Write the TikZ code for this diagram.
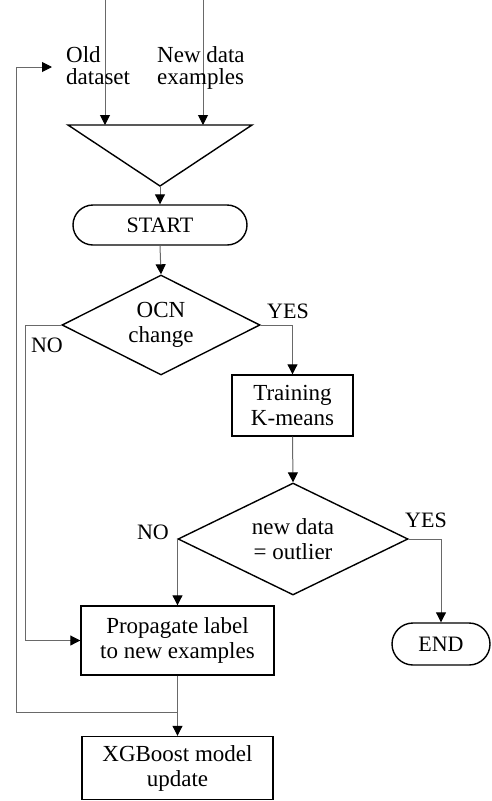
\documentclass[tikz,border=0pt]{standalone}
\usepackage{fontspec}
\setmainfont{Liberation Serif}
\usetikzlibrary{arrows.meta,shapes.geometric}
\definecolor{connc}{RGB}{105,105,105}
\begin{document}
\begin{tikzpicture}[x=1pt,y=-1pt,
  every node/.style={font=\fontsize{23}{25}\selectfont, inner sep=0pt},
  shp/.style={draw=black, line width=1.4pt},
  box/.style={shp, rectangle, align=center},
  term/.style={shp, rectangle, rounded corners=20pt, align=center, font=\fontsize{22}{25}\selectfont},
  dia/.style={shp, diamond, aspect=2, align=center},
  conn/.style={draw=connc, line width=1pt, -{Triangle[length=10pt,width=10pt,color=black]}},
  lbl/.style={align=center, font=\fontsize{22}{25}\selectfont}
]
\useasboundingbox (0,0) rectangle (492,801);

% input triangle
\coordinate (tl) at (68,125);
\coordinate (tr) at (252,125);
\coordinate (tap) at (160,186);
\draw[shp, line join=miter] (tl) -- (tr) -- (tap) -- cycle;
\coordinate (in1) at (105,125);
\coordinate (in2) at (203,125);
\coordinate (src1) at (105,0);
\coordinate (src2) at (203,0);
\draw[conn] (src1) -- (in1);
\draw[conn] (src2) -- (in2);

\node[anchor=north west, align=left, font=\fontsize{23}{22}\selectfont] (old) at (66,46) {Old\\dataset};
\node[anchor=north west, align=left, font=\fontsize{23}{22}\selectfont] (new) at (157,46) {New data\\examples};

% nodes
\node[term, minimum width=174pt, minimum height=40pt] (start) at (160,225) {START};
\node[dia, minimum width=198pt, minimum height=100pt] (ocn) at (161,325) {OCN\\change};
\node[box, minimum width=121pt, minimum height=61pt] (train) at (292.5,405.5) {Training\\K-means};
\node[dia, minimum width=230pt, minimum height=112pt] (out) at (293,539) {new data\\= outlier};
\node[term, rounded corners=21pt, minimum width=98pt, minimum height=42pt] (end) at (441,644) {END};
\node[box, minimum width=193pt, minimum height=69pt] (prop) at (177.5,640.5) {Propagate label\\to new examples};
\node[box, minimum width=191pt, minimum height=63pt] (xgb) at (177.5,768) {XGBoost model\\update};

% labels
\node[lbl] (yes1) at (288,311) {YES};
\node[lbl] (no1) at (47,345) {NO};
\node[lbl] (no2) at (153,532) {NO};
\node[lbl] (yes2) at (426,520) {YES};

% connectors
\draw[conn] (tap) -- (start.north);
\draw[conn] (start.south) -- (ocn.north);
\draw[conn] (ocn.east) -| (train.north);
\draw[conn] (train.south) -- (out.north);
\coordinate (nob) at (25,640.5);
\draw[conn] (ocn.west) -| (nob) -- (prop.west);
\draw[conn] (out.west) -| (prop.north);
\draw[conn] (out.east) -| (end.north);
\draw[conn] (prop.south) -- (xgb.north);
\coordinate (jn) at (177.5,712);
\coordinate (lp1) at (16,712);
\coordinate (lp2) at (16,67);
\coordinate (lpe) at (52,67);
\draw[conn] (jn) -- (lp1) -- (lp2) -- (lpe);
\end{tikzpicture}
\end{document}
